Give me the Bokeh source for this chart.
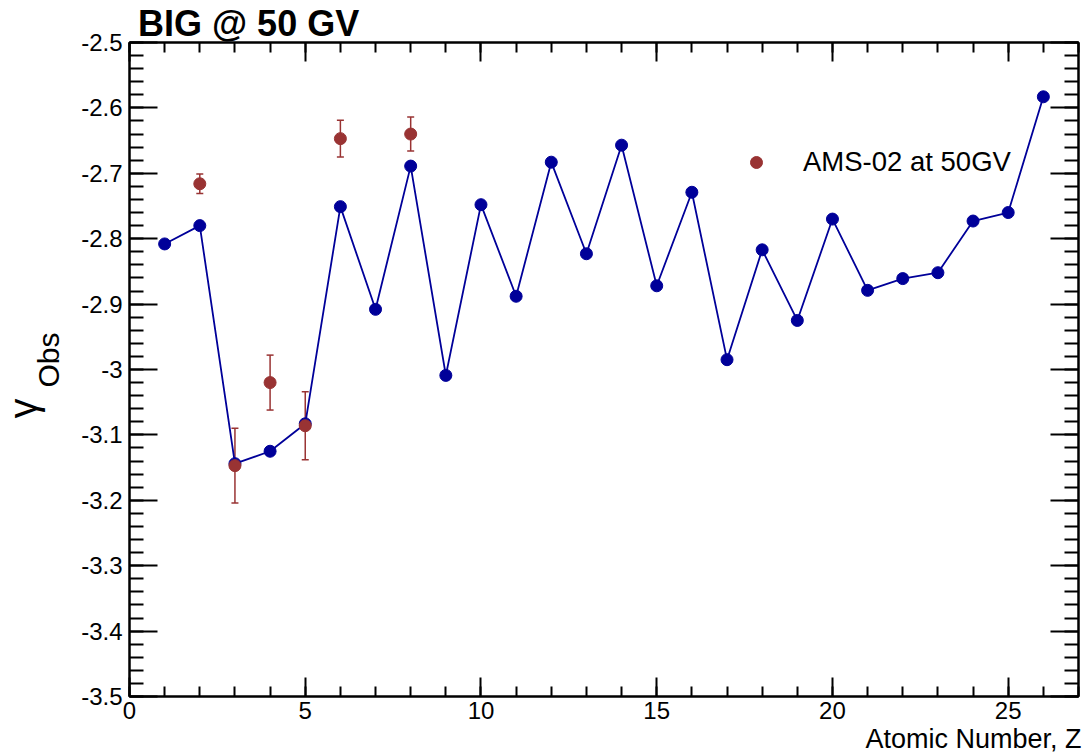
from bokeh.plotting import figure
from bokeh.models import (ColumnDataSource, LinearAxis, SingleIntervalTicker, Title,
                          Legend, LegendItem, Whisker, TeeHead, CustomJSTickFormatter)
from bokeh.embed import file_html
from bokeh.resources import INLINE

# ---- data ----
Z_BIG = list(range(1, 27))
GAMMA_BIG = [-2.808, -2.780, -3.144, -3.125, -3.083, -2.751, -2.908, -2.689, -3.009,
             -2.748, -2.888, -2.683, -2.823, -2.657, -2.872, -2.729, -2.985, -2.817,
             -2.925, -2.770, -2.879, -2.861, -2.852, -2.773, -2.760, -2.583]

Z_AMS = [2, 3, 4, 5, 6, 8]
GAMMA_AMS = [-2.716, -3.147, -3.020, -3.086, -2.647, -2.640]
ERR_AMS = [0.015, 0.057, 0.042, 0.052, 0.028, 0.026]

TITLE = "BIG @ 50 GV"
XTITLE = "Atomic Number, Z"
YTITLE_MAIN = "γ"
YTITLE_SUB = "Obs"
LEGEND_LABEL = "AMS-02 at 50GV"

X_START, X_END = 0, 27
Y_START, Y_END = -3.5, -2.5

BLUE = "#000099"
RED = "#993333"
FONT = "Liberation Sans"

p = figure(width=1085, height=756, x_range=(X_START, X_END), y_range=(Y_START, Y_END),
           output_backend="svg", toolbar_location=None, title=None,
           min_border_left=129, min_border_right=7, min_border_top=42, min_border_bottom=60)
p.xgrid.visible = False
p.ygrid.visible = False
p.outline_line_color = "black"
p.outline_line_width = 2
p.background_fill_color = "white"
p.border_fill_color = "white"

blank = CustomJSTickFormatter(code="return ''")
yfmt = CustomJSTickFormatter(code="return tick.toFixed(1).replace(/\\.0$/, '')")


def style_axis(ax, major_in, minor_in, labels=True):
    ax.axis_line_width = 2
    ax.axis_line_color = "black"
    ax.major_tick_line_width = 2
    ax.minor_tick_line_width = 2
    ax.major_tick_in = major_in
    ax.major_tick_out = 0
    ax.minor_tick_in = minor_in
    ax.minor_tick_out = 0
    if labels:
        ax.major_label_text_font = FONT
        ax.major_label_text_font_size = "24px"
        ax.major_label_text_color = "black"
    else:
        ax.formatter = blank
        ax.major_label_text_font_size = "1px"
        ax.major_label_standoff = 0


xa = p.xaxis[0]
xa.ticker = SingleIntervalTicker(interval=5, num_minor_ticks=5)
style_axis(xa, 19, 10)
xa.major_label_standoff = 5

ya = p.yaxis[0]
ya.ticker = SingleIntervalTicker(interval=0.1, num_minor_ticks=5)
ya.formatter = yfmt
style_axis(ya, 28, 14)
ya.major_label_standoff = 7

top_ax = LinearAxis(ticker=SingleIntervalTicker(interval=5, num_minor_ticks=5))
style_axis(top_ax, 19, 10, labels=False)
p.add_layout(top_ax, "above")

right_ax = LinearAxis(ticker=SingleIntervalTicker(interval=0.1, num_minor_ticks=5))
style_axis(right_ax, 28, 14, labels=False)
p.add_layout(right_ax, "right")

# ---- BIG series ----
src_big = ColumnDataSource(dict(z=Z_BIG, g=GAMMA_BIG))
p.line("z", "g", source=src_big, line_color=BLUE, line_width=1.8)
p.scatter("z", "g", source=src_big, size=12, fill_color=BLUE, line_color=BLUE)

# ---- AMS series ----
src_ams = ColumnDataSource(dict(z=Z_AMS, g=GAMMA_AMS,
                                upper=[g + e for g, e in zip(GAMMA_AMS, ERR_AMS)],
                                lower=[g - e for g, e in zip(GAMMA_AMS, ERR_AMS)]))
wh = Whisker(base="z", upper="upper", lower="lower", source=src_ams, dimension="height",
             line_color=RED, line_width=1.5,
             upper_head=TeeHead(size=7, line_color=RED, line_width=1.5),
             lower_head=TeeHead(size=7, line_color=RED, line_width=1.5))
p.add_layout(wh)
r_ams = p.scatter("z", "g", source=src_ams, size=12, fill_color=RED, line_color=RED)

legend = Legend(items=[LegendItem(label=LEGEND_LABEL, renderers=[r_ams])],
                location=(612, 518), margin=0, padding=0, spacing=0,
                glyph_width=30, glyph_height=30, label_standoff=32,
                label_text_font=FONT, label_text_font_size="27.5px",
                label_text_color="black",
                background_fill_alpha=0, border_line_alpha=0)
p.add_layout(legend)

# ---- titles in side panels ----
p.add_layout(Title(text=TITLE, align="left", vertical_align="bottom", offset=8.5, standoff=-3,
                   text_font=FONT, text_font_size="36px", text_font_style="bold",
                   text_color="black"), "above")
p.add_layout(Title(text=XTITLE, align="right", vertical_align="bottom", offset=-3, standoff=0,
                   text_font=FONT, text_font_size="27px", text_font_style="normal",
                   text_color="black"), "below")
p.add_layout(Title(text=YTITLE_SUB, align="left", vertical_align="top", offset=309, standoff=24,
                   text_font=FONT, text_font_size="30px", text_font_style="normal",
                   text_color="black"), "left")
p.add_layout(Title(text=YTITLE_MAIN, align="left", vertical_align="bottom", offset=278, standoff=-50,
                   text_font=FONT, text_font_size="40px", text_font_style="normal",
                   text_color="black"), "left")

open("out.html", "w").write(file_html(p, INLINE))
